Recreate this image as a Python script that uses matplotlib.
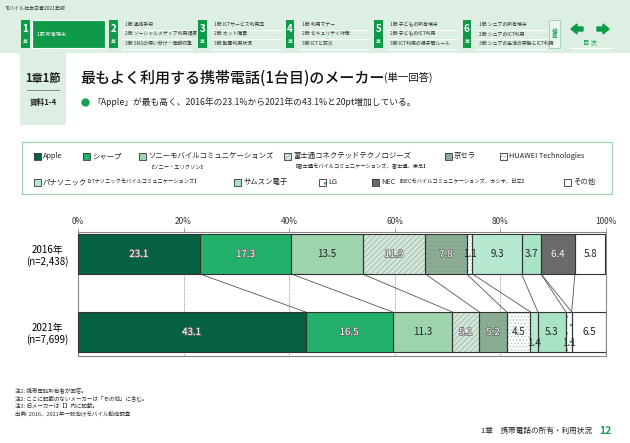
import matplotlib
matplotlib.use("Agg")
import matplotlib.pyplot as plt
import matplotlib.patheffects as pe
from matplotlib.patches import Rectangle, FancyArrow
import numpy as np

plt.rcParams['font.family'] = ['Noto Sans CJK JP', 'DejaVu Sans']
plt.rcParams['hatch.linewidth'] = 0.6

# data
makers = ["Apple", "シャープ", "ソニーモバイルコミュニケーションズ", "富士通コネクテッドテクノロジーズ",
          "京セラ", "HUAWEI Technologies", "パナソニック", "サムスン電子", "LG", "NEC", "その他"]
years = ["2016年\n(n=2,438)", "2021年\n(n=7,699)"]
v2016 = [23.1, 17.3, 13.5, 11.9, 7.8, 1.1, 9.3, 3.7, 0.0, 6.4, 5.8]
v2021 = [43.1, 16.5, 11.3, 5.1, 5.2, 4.5, 1.4, 5.3, 1.1, 0.0, 6.5]
ticks = [0, 20, 40, 60, 80, 100]

# style per maker: fill, hatch, hatch colour, label style
fills = ["#05613f", "#22b06b", "#9dd4ad", "#d3e6d9", "#8cae95", "#ffffff",
         "#b6e8cf", "#a9e3c5", "#ffffff", "#6a6a6c", "#ffffff"]
hatches = [None, None, None, "//////", "....", ".....", None, None, "..", None, None]
hcols = [None, None, None, "#9dbda8", "#7fa088", "#a8ccb6", None, None, "#3fae70", None, None]
light_lab = [True, True, False, True, True, False, False, False, False, True, False]

GREEN = "#0f9a4a"
EDGE = "#333333"

fig = plt.figure(figsize=(6.3, 4.43), dpi=100)
bg = fig.add_axes([0, 0, 1, 1])
bg.set_xlim(0, 630)
bg.set_ylim(443, 0)
bg.axis("off")


def hbox(ax, x, y, w, h, i, lw=0.7):
    ax.add_patch(Rectangle((x, y), w, h, facecolor=fills[i], edgecolor=hcols[i] or EDGE,
                           hatch=hatches[i], linewidth=0))
    ax.add_patch(Rectangle((x, y), w, h, fill=False, edgecolor=EDGE, linewidth=lw))


# header band
bg.add_patch(Rectangle((0, 0), 630, 53, facecolor="#dcefe2", edgecolor="none"))
bg.text(4, 8, "モバイル社会白書2021年版", fontsize=3.6, va="center", color="#333")
chap_x = [21, 109, 198, 285.5, 374, 462.6]
items = [None,
         ["1節 連絡手段", "2節 ソーシャルメディア利用頻度", "3節 SNSの使い分け・情報収集"],
         ["1節 ICTサービス利用率", "2節 ネット購買", "3節 動画利用状況"],
         ["1節 利用マナー", "2節 セキュリティ対策", "3節 ICTと防災"],
         ["1節 子どもの所有端末", "2節 子どものICT利用", "3節 ICT利用の親子間ルール"],
         ["1節 シニアの所有端末", "2節 シニアのICT利用", "3節 シニアの生活の実態とICT利用"]]
for k, cx in enumerate(chap_x):
    bg.add_patch(Rectangle((cx, 20), 8.5, 28, facecolor=GREEN, edgecolor="none"))
    bg.text(cx + 4.25, 29, str(k + 1), color="white", fontsize=7, ha="center", va="center",
            fontweight="bold")
    bg.text(cx + 4.25, 41, "章", color="white", fontsize=3.5, ha="center", va="center")
    if k == 0:
        bg.add_patch(Rectangle((cx + 11, 20), 73, 28, facecolor=GREEN, edgecolor="white",
                               linewidth=0.8))
        bg.text(cx + 16, 34, "1節 所有端末", color="white", fontsize=3.6, va="center")
        continue
    for r, t in enumerate(items[k]):
        bg.text(cx + 16, 24.5 + r * 9.5, t, fontsize=3.5, va="center", color="#333")
        bg.plot([cx + 13, cx + 83], [29.5 + r * 9.5] * 2, color="white", lw=0.8)
bg.add_patch(Rectangle((549, 20), 11, 28, facecolor="#eaf6ee", edgecolor="#9fcfb0", lw=0.6))
bg.text(554.5, 34, "補\n章", color=GREEN, fontsize=4, ha="center", va="center", linespacing=1.2)
bg.add_patch(FancyArrow(583, 29, -6, 0, width=4, head_width=10, head_length=6,
                        color=GREEN, length_includes_head=False))
bg.add_patch(FancyArrow(597, 29, 6, 0, width=4, head_width=10, head_length=6,
                        color=GREEN, length_includes_head=False))
bg.text(590, 43, "目 次", color=GREEN, fontsize=4.5, ha="center", va="center")
bg.plot([570, 612], [48, 48], color="white", lw=0.8)

# section tab and title
bg.add_patch(Rectangle((20, 53), 46, 72, facecolor="#dcefe2", edgecolor="none"))
bg.text(43, 78, "1章1節", fontsize=8, ha="center", va="center", color="#222", fontweight="bold")
bg.plot([27, 59], [90, 90], color="#777", lw=0.6)
bg.text(43, 102, "資料1-4", fontsize=5.5, ha="center", va="center", color="#222",
        fontweight="bold")
title = bg.text(80, 78, "最もよく利用する携帯電話(1台目)のメーカー", fontsize=10.8, va="center",
                color="#111", fontweight="medium")
bg.annotate("(単一回答)", xy=(1, 0.45), xycoords=title, va="center", fontsize=7.5,
            color="#111")
bg.plot([85], [102], marker="o", ms=5, color="#1aa050")
bg.text(92, 102, "「Apple」が最も高く、2016年の23.1%から2021年の43.1%と20pt増加している。",
        fontsize=6.3, va="center", color="#222")

# legend
bg.add_patch(Rectangle((22, 142), 590, 52, facecolor="white", edgecolor="#9fd2b1", lw=0.9))
leg = [(0, 34, 156), (1, 83, 156), (2, 139, 156), (3, 284, 156), (4, 445, 156), (5, 500, 156),
       (6, 34, 182), (7, 234, 182), (8, 319, 182), (9, 372, 182), (10, 564, 182)]
for i, x, y in leg:
    hbox(bg, x, y - 3.5, 7, 7, i, lw=0.6)
    bg.text(x + 9, y, makers[i], fontsize=5.3, va="center", color="#222")
bg.text(148, 167, "【ソニー・エリクソン】", fontsize=3.8, va="center", color="#222")
bg.text(293, 167, "【富士通モバイルコミュニケーションズ、富士通、東芝】", fontsize=3.8, va="center",
        color="#222")
bg.text(85, 182, "【パナソニックモバイルコミュニケーションズ】", fontsize=3.8, va="center",
        color="#222")
bg.text(396, 182, "【NECモバイルコミュニケーションズ、カシオ、日立】", fontsize=3.8, va="center",
        color="#222")

# chart
ax = fig.add_axes([78 / 630, 1 - 356 / 443, 528 / 630, 124 / 443])
ax.set_xlim(0, 100)
ax.set_ylim(1.308, -0.282)
h = 0.513
vals = [v2016, v2021]
stroke = [pe.withStroke(linewidth=1.1, foreground="#666666")]
for t in ticks[1:-1]:
    ax.axvline(t, color="#888", lw=0.6, ls=(0, (1, 1)), zorder=0)
for row, v in enumerate(vals):
    left = 0
    for i, val in enumerate(v):
        if val > 0:
            ax.barh(row, val, left=left, height=h, color=fills[i], hatch=hatches[i],
                    edgecolor=hcols[i] or EDGE, linewidth=0, zorder=2)
            ax.barh(row, val, left=left, height=h, fill=False, edgecolor=EDGE,
                    linewidth=0.8, zorder=3)
            cx = left + val / 2
            dy = 0.14 if (val < 2 and row == 1) else 0
            if light_lab[i]:
                ax.text(cx, row + dy, f"{val:.1f}", ha="center", va="center", fontsize=7,
                        color="white", path_effects=stroke, zorder=4)
            else:
                ax.text(cx, row + dy, f"{val:.1f}", ha="center", va="center", fontsize=7,
                        color="#222", zorder=4)
        left += val
# connector lines between years
c0 = np.cumsum(v2016)[:-1]
c1 = np.cumsum(v2021)[:-1]
for a, b in zip(c0, c1):
    ax.plot([a, b], [h / 2, 1 - h / 2], color="#555", lw=0.6, zorder=1)

ax.xaxis.tick_top()
ax.set_xticks(ticks, [f"{t}%" for t in ticks])
ax.tick_params(axis="x", length=3, width=0.6, color="#888", labelsize=6, pad=1,
               labelcolor="#333")
ax.set_yticks([0, 1], years)
ax.tick_params(axis="y", length=0, pad=22, labelsize=7)
for lab in ax.get_yticklabels():
    lab.set_ha("center")
    lab.set_multialignment("center")
for s in ax.spines.values():
    s.set_color("#888")
    s.set_linewidth(0.8)

# notes and footer
notes = ["注1: 携帯電話所有者が回答。", "注2: ここに記載のないメーカーは「その他」に含む。",
         "注3: 旧メーカーは【】内に記載。", "出典: 2016、2021年一般向けモバイル動向調査"]
for k, n in enumerate(notes):
    bg.text(15, 391 + k * 7.5, n, fontsize=4, va="center", color="#333")
bg.text(592, 431, "1章　携帯電話の所有・利用状況", fontsize=5.5, va="center", ha="right",
        color="#222")
bg.text(599, 431, "12", fontsize=7.5, va="center", color="#1aa050", fontweight="bold")

fig.savefig("out.png", dpi=100)
